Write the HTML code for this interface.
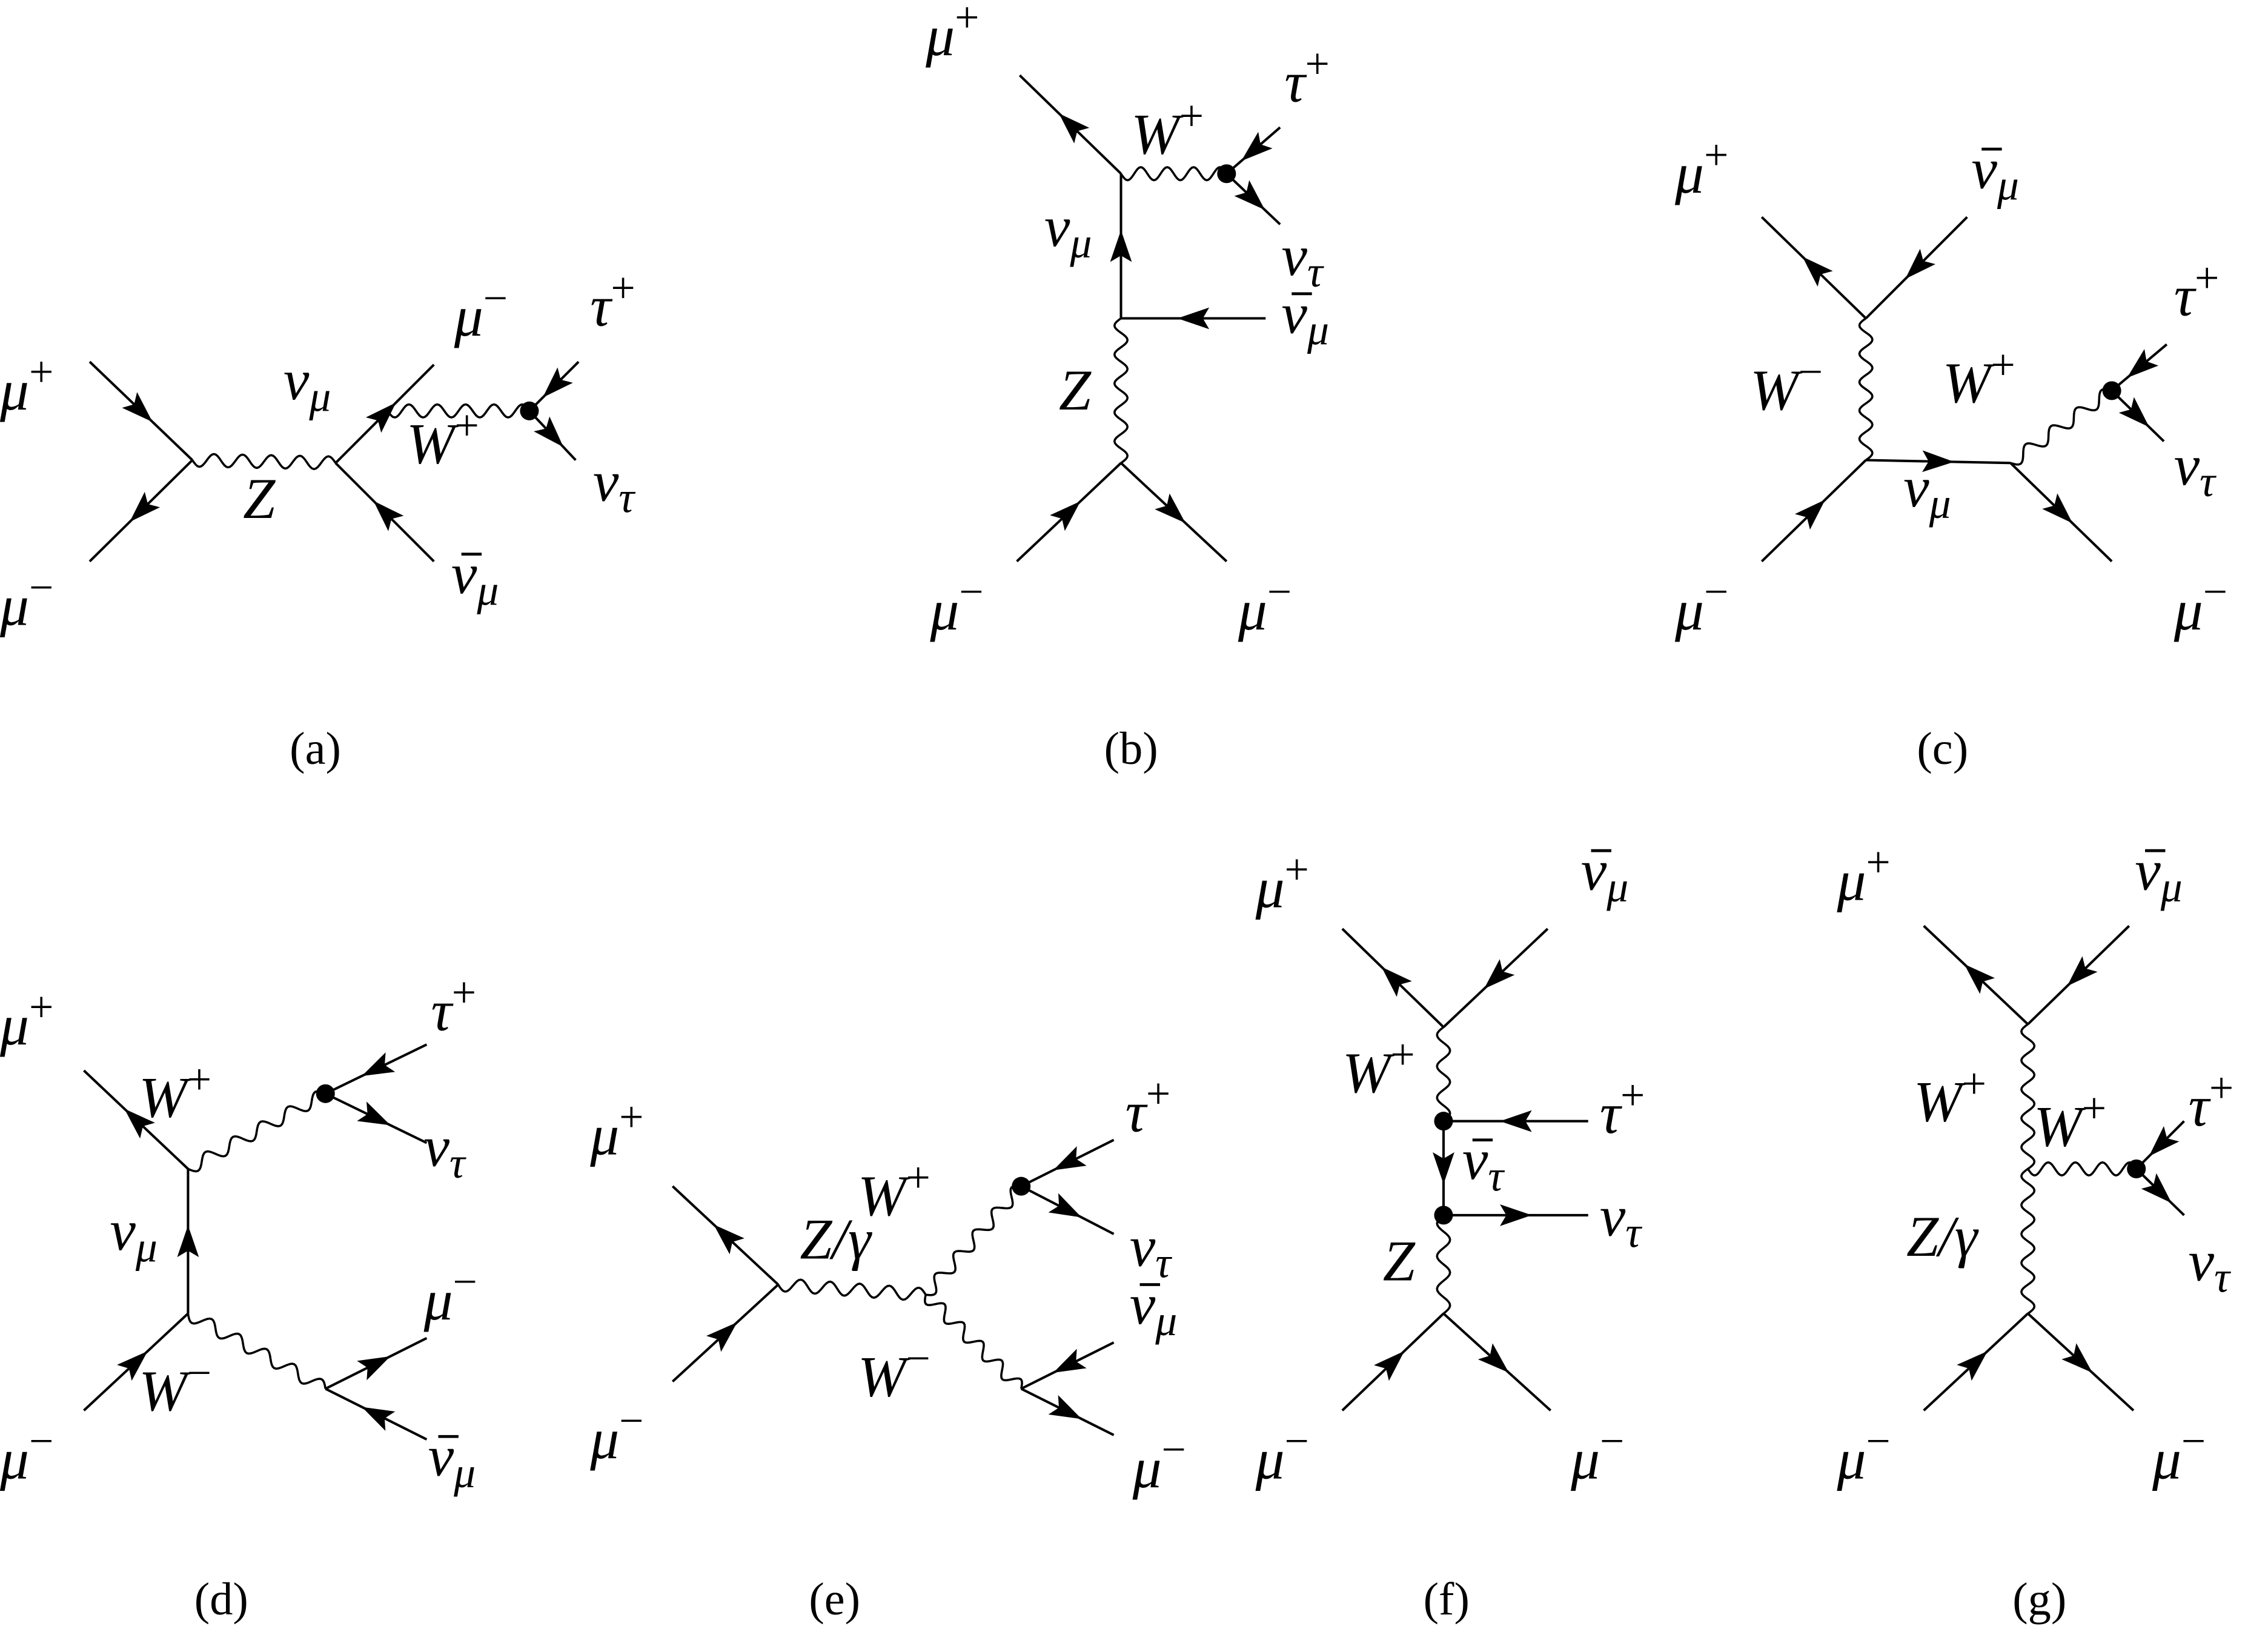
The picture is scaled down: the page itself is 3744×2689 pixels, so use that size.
<!DOCTYPE html>
<html><head><meta charset="utf-8">
<style>
html,body{margin:0;padding:0;background:#fff;}
svg{display:block;}
text{font-family:"Liberation Serif",serif;fill:#000;}
.m{font-style:italic;font-size:40px;}
.c{font-size:32px;}
tspan.s{font-size:30px;}
tspan.u{font-style:normal;font-size:30px;}
</style></head><body>
<svg id="sv" width="3744" height="2689" viewBox="0 0 1568 1126" xmlns="http://www.w3.org/2000/svg">
<g id="g"></g>
<!-- (a) -->
<text class="m" x="0" y="283">μ<tspan class="u" dy="-16">+</tspan></text>
<text class="m" x="0" y="432">μ<tspan class="u" dy="-16">−</tspan></text>
<text class="m" x="196" y="276">ν<tspan class="s" dy="8">μ</tspan></text>
<text class="m" x="168" y="358">Z</text>
<text class="m" x="314" y="232">μ<tspan class="u" dy="-16">−</tspan></text>
<text class="m" x="408" y="225">τ<tspan class="u" dy="-16">+</tspan></text>
<text class="m" x="281" y="320">W<tspan class="u" dy="-16">+</tspan></text>
<text class="m" x="410" y="346">ν<tspan class="s" dy="8">τ</tspan></text>
<text class="m" x="312" y="410">ν<tspan class="s" dy="8">μ</tspan></text>
<text class="c" x="218" y="528" text-anchor="middle">(a)</text>
<!-- (b) -->
<text class="m" x="640" y="38">μ<tspan class="u" dy="-16">+</tspan></text>
<text class="m" x="782" y="106">W<tspan class="u" dy="-16">+</tspan></text>
<text class="m" x="888" y="70">τ<tspan class="u" dy="-16">+</tspan></text>
<text class="m" x="886" y="190">ν<tspan class="s" dy="8">τ</tspan></text>
<text class="m" x="722" y="170">ν<tspan class="s" dy="8">μ</tspan></text>
<text class="m" x="886" y="230">ν<tspan class="s" dy="8">μ</tspan></text>
<text class="m" x="732" y="283">Z</text>
<text class="m" x="643" y="435">μ<tspan class="u" dy="-16">−</tspan></text>
<text class="m" x="856" y="435">μ<tspan class="u" dy="-16">−</tspan></text>
<text class="c" x="782" y="528" text-anchor="middle">(b)</text>
<!-- (c) -->
<text class="m" x="1158" y="133">μ<tspan class="u" dy="-16">+</tspan></text>
<text class="m" x="1363" y="130">ν<tspan class="s" dy="8">μ</tspan></text>
<text class="m" x="1210" y="283">W<tspan class="u" dy="-16">−</tspan></text>
<text class="m" x="1343" y="278">W<tspan class="u" dy="-16">+</tspan></text>
<text class="m" x="1503" y="218">τ<tspan class="u" dy="-16">+</tspan></text>
<text class="m" x="1503" y="335">ν<tspan class="s" dy="8">τ</tspan></text>
<text class="m" x="1316" y="350">ν<tspan class="s" dy="8">μ</tspan></text>
<text class="m" x="1158" y="435">μ<tspan class="u" dy="-16">−</tspan></text>
<text class="m" x="1503" y="435">μ<tspan class="u" dy="-16">−</tspan></text>
<text class="c" x="1343" y="528" text-anchor="middle">(c)</text>
<!-- (d) -->
<text class="m" x="0" y="722">μ<tspan class="u" dy="-16">+</tspan></text>
<text class="m" x="96" y="772">W<tspan class="u" dy="-16">+</tspan></text>
<text class="m" x="298" y="712">τ<tspan class="u" dy="-16">+</tspan></text>
<text class="m" x="293" y="806">ν<tspan class="s" dy="8">τ</tspan></text>
<text class="m" x="76" y="864">ν<tspan class="s" dy="8">μ</tspan></text>
<text class="m" x="96" y="975">W<tspan class="u" dy="-16">−</tspan></text>
<text class="m" x="293" y="912">μ<tspan class="u" dy="-16">−</tspan></text>
<text class="m" x="0" y="1022">μ<tspan class="u" dy="-16">−</tspan></text>
<text class="m" x="296" y="1020">ν<tspan class="s" dy="8">μ</tspan></text>
<text class="c" x="153" y="1116" text-anchor="middle">(d)</text>
<!-- (e) -->
<text class="m" x="408" y="798">μ<tspan class="u" dy="-16">+</tspan></text>
<text class="m" x="553" y="870">Z/γ</text>
<text class="m" x="593" y="840">W<tspan class="u" dy="-16">+</tspan></text>
<text class="m" x="778" y="782">τ<tspan class="u" dy="-16">+</tspan></text>
<text class="m" x="781" y="875">ν<tspan class="s" dy="8">τ</tspan></text>
<text class="m" x="781" y="915">ν<tspan class="s" dy="8">μ</tspan></text>
<text class="m" x="593" y="965">W<tspan class="u" dy="-16">−</tspan></text>
<text class="m" x="408" y="1008">μ<tspan class="u" dy="-16">−</tspan></text>
<text class="m" x="783" y="1028">μ<tspan class="u" dy="-16">−</tspan></text>
<text class="c" x="577" y="1116" text-anchor="middle">(e)</text>
<!-- (f) -->
<text class="m" x="868" y="627">μ<tspan class="u" dy="-16">+</tspan></text>
<text class="m" x="1093" y="615">ν<tspan class="s" dy="8">μ</tspan></text>
<text class="m" x="928" y="755">W<tspan class="u" dy="-16">+</tspan></text>
<text class="m" x="1106" y="783">τ<tspan class="u" dy="-16">+</tspan></text>
<text class="m" x="1011" y="815">ν<tspan class="s" dy="8">τ</tspan></text>
<text class="m" x="1106" y="854">ν<tspan class="s" dy="8">τ</tspan></text>
<text class="m" x="956" y="885">Z</text>
<text class="m" x="868" y="1022">μ<tspan class="u" dy="-16">−</tspan></text>
<text class="m" x="1086" y="1022">μ<tspan class="u" dy="-16">−</tspan></text>
<text class="c" x="1000" y="1116" text-anchor="middle">(f)</text>
<!-- (g) -->
<text class="m" x="1270" y="622">μ<tspan class="u" dy="-16">+</tspan></text>
<text class="m" x="1476" y="615">ν<tspan class="s" dy="8">μ</tspan></text>
<text class="m" x="1323" y="775">W<tspan class="u" dy="-16">+</tspan></text>
<text class="m" x="1406" y="792">W<tspan class="u" dy="-16">+</tspan></text>
<text class="m" x="1513" y="778">τ<tspan class="u" dy="-16">+</tspan></text>
<text class="m" x="1318" y="868">Z/γ</text>
<text class="m" x="1513" y="885">ν<tspan class="s" dy="8">τ</tspan></text>
<text class="m" x="1270" y="1022">μ<tspan class="u" dy="-16">−</tspan></text>
<text class="m" x="1488" y="1022">μ<tspan class="u" dy="-16">−</tspan></text>
<text class="c" x="1410" y="1116" text-anchor="middle">(g)</text>
</svg>
<script>
var g=document.getElementById('g'),NS='http://www.w3.org/2000/svg';
function el(t,a){var e=document.createElementNS(NS,t);for(var k in a)e.setAttribute(k,a[k]);g.appendChild(e);return e;}
function arrowAt(x,y,dx,dy){var L=Math.hypot(dx,dy);dx/=L;dy/=L;var px=-dy,py=dx,l=22,w=7.5;
 var tx=x+dx*l/2,ty=y+dy*l/2,bx=x-dx*l/2,by=y-dy*l/2;
 el('polygon',{points:tx+','+ty+' '+(bx+px*w)+','+(by+py*w)+' '+(x-dx*l*0.3)+','+(y-dy*l*0.3)+' '+(bx-px*w)+','+(by-py*w),fill:'#000'});}
function F(x1,y1,x2,y2){el('line',{x1:x1,y1:y1,x2:x2,y2:y2,stroke:'#000','stroke-width':1.7});
 arrowAt((x1+x2)/2,(y1+y2)/2,x2-x1,y2-y1);}
function W(x1,y1,x2,y2){var dx=x2-x1,dy=y2-y1,L=Math.hypot(dx,dy);var n=Math.max(2,Math.round(L/20));
 var ux=dx/L,uy=dy/L,px=-uy,py=ux,d='M'+x1+' '+y1,N=n*16;
 for(var i=1;i<=N;i++){var t=i/N,s=L*t,a=4.5*Math.sin(t*n*2*Math.PI);d+=' L'+(x1+ux*s+px*a).toFixed(2)+' '+(y1+uy*s+py*a).toFixed(2);}
 el('path',{d:d,fill:'none',stroke:'#000','stroke-width':1.5});}
function B(x,y){el('circle',{cx:x,cy:y,r:6.5,fill:'#000'});}
function bar(x,y){el('line',{x1:x+7,y1:y-27,x2:x+21,y2:y-27,stroke:'#000','stroke-width':2});}
bar(312,410);bar(886,230);bar(1363,130);bar(296,1020);bar(781,915);bar(1093,615);bar(1011,815);bar(1476,615);
// (a)
F(62,250,133,318);F(133,318,62,388);W(133,318,232,320);
F(232,320,300,252);F(300,388,232,320);W(268,284,366,284);
F(400,250,366,284);F(366,284,398,318);B(366,284);
// (b)
F(775,120,705,52);W(775,120,848,120);F(885,88,848,120);F(848,120,885,155);B(848,120);
F(775,220,775,120);F(875,220,775,220);W(775,220,775,320);
F(703,388,775,320);F(775,320,848,388);
// (c)
F(1290,220,1218,150);F(1360,150,1290,220);W(1290,220,1290,318);
F(1218,388,1290,318);F(1290,318,1390,320);F(1390,320,1460,388);
W(1390,320,1460,270);F(1498,238,1460,270);F(1460,270,1496,305);B(1460,270);
// (d)
F(130,808,58,740);W(130,808,225,756);F(295,722,225,756);F(225,756,295,790);B(225,756);
F(130,908,130,808);F(58,975,130,908);W(130,908,225,960);F(225,960,295,925);F(295,995,225,960);
// (e)
F(538,888,465,820);F(465,955,538,888);W(538,888,640,895);
W(640,895,706,820);W(640,895,706,960);
F(770,788,706,820);F(706,820,770,853);B(706,820);
F(770,928,706,960);F(706,960,770,992);
// (f)
F(998,710,928,642);F(1070,642,998,710);W(998,710,998,775);
F(1098,775,998,775);F(998,775,998,840);F(998,840,1098,840);
W(998,840,998,908);B(998,775);B(998,840);
F(928,975,998,908);F(998,908,1072,975);
// (g)
F(1402,708,1330,640);F(1472,640,1402,708);W(1402,708,1402,908);
W(1402,808,1477,808);F(1510,775,1477,808);F(1477,808,1510,840);B(1477,808);
F(1330,975,1402,908);F(1402,908,1475,975);
</script>
</body></html>
